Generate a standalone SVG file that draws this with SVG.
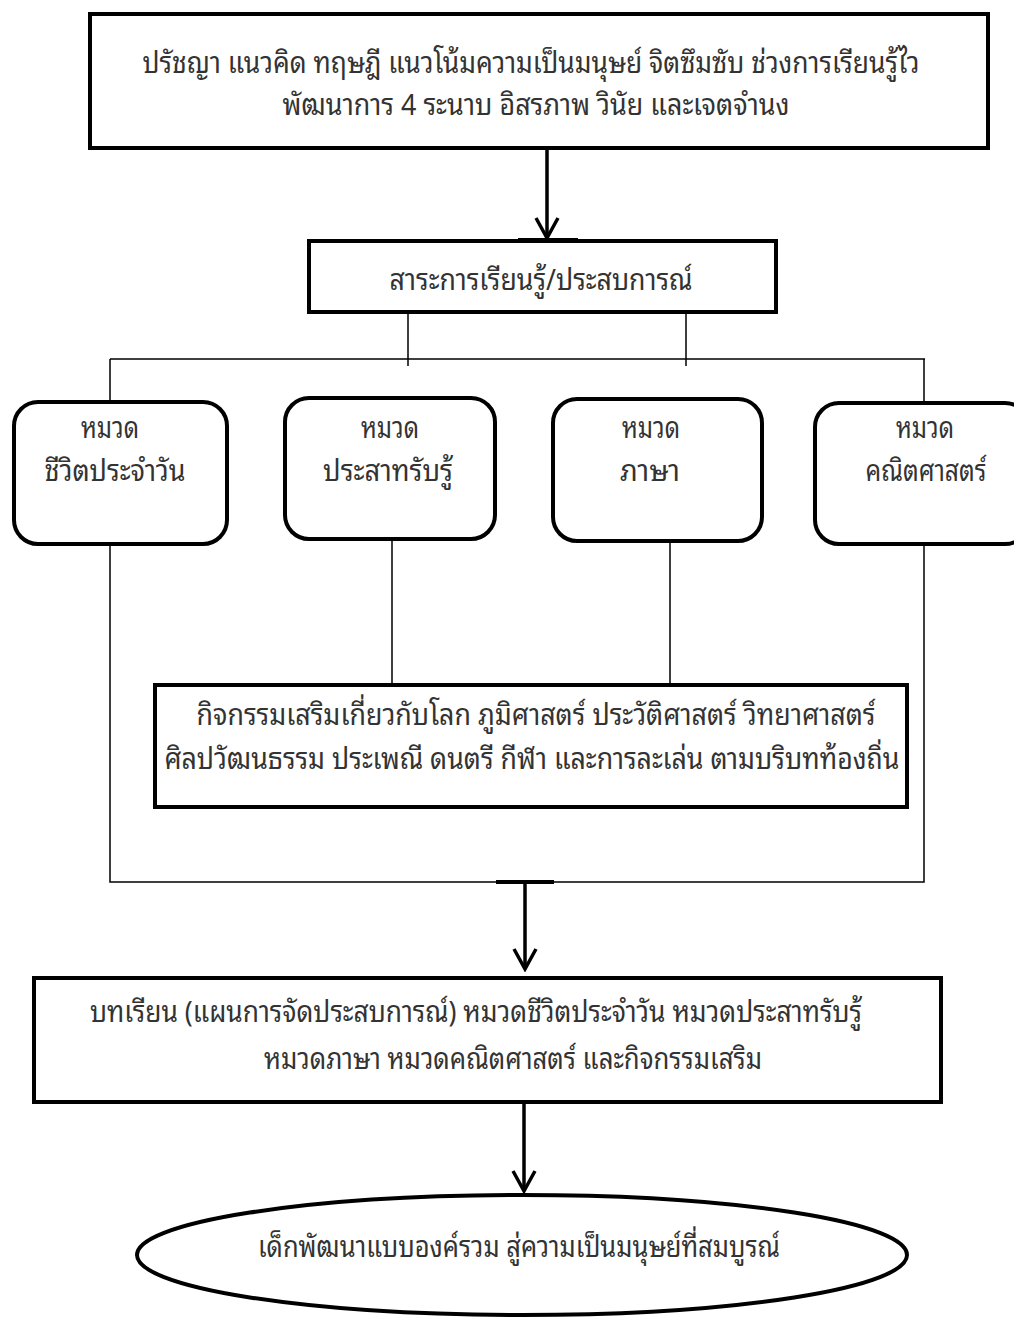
<svg xmlns="http://www.w3.org/2000/svg" width="1014" height="1318" viewBox="0 0 1014 1318">
<style>
text{font-family:"Noto Sans Thai Looped","Loma","Garuda","Waree","Norasi","Noto Serif Thai","Noto Sans Thai","Noto Sans","DejaVu Sans",sans-serif;font-size:29px;fill:#333;text-anchor:middle}
.box{fill:#fff;stroke:#000;stroke-width:4}
.thin{fill:none;stroke:#000;stroke-width:1.5}
.arr{fill:none;stroke:#000;stroke-width:3.5}
</style>
<defs>
<marker id="ah" viewBox="0 0 26 26" refX="23" refY="13" markerWidth="26" markerHeight="26" orient="auto" markerUnits="userSpaceOnUse">
<path d="M3,2 L23,13 L3,24" fill="none" stroke="#000" stroke-width="3.5"/>
</marker>
</defs>
<rect width="1014" height="1318" fill="#fff"/>
<g id="connectors">
<line class="arr" x1="547" y1="150" x2="547" y2="238" marker-end="url(#ah)"/>
<path class="thin" d="M408,313 V366 M686,313 V366 M110,359 H925 M110,359 V402 M924,359 V404"/>
<path class="thin" d="M110,545 V882 H924 V545 M392,540 V684 M670,541 V684"/>
<rect x="496" y="880" width="58" height="4" fill="#000"/>
<line class="arr" x1="525" y1="882" x2="525" y2="969" marker-end="url(#ah)"/>
<line class="arr" x1="524" y1="1104" x2="524" y2="1191" marker-end="url(#ah)"/>
</g>
<g id="n1">
<rect class="box" x="90" y="14" width="898" height="134"/>
<text x="531" y="73" textLength="777" lengthAdjust="spacingAndGlyphs">ปรัชญา แนวคิด ทฤษฎี แนวโน้มความเป็นมนุษย์ จิตซึมซับ ช่วงการเรียนรู้ไว</text>
<text x="536" y="115" textLength="507" lengthAdjust="spacingAndGlyphs">พัฒนาการ 4 ระนาบ อิสรภาพ วินัย และเจตจำนง</text>
</g>
<g id="n2">
<rect class="box" x="309" y="241" width="467" height="71"/>
<rect x="518" y="238" width="60" height="5" fill="#000"/>
<text x="541" y="290" textLength="303" lengthAdjust="spacingAndGlyphs">สาระการเรียนรู้/ประสบการณ์</text>
</g>
<g id="n3">
<rect class="box" x="14" y="402" width="213" height="142" rx="24"/>
<text x="110" y="438" textLength="58" lengthAdjust="spacingAndGlyphs">หมวด</text>
<text x="115" y="481" textLength="141" lengthAdjust="spacingAndGlyphs">ชีวิตประจำวัน</text>
</g>
<g id="n4">
<rect class="box" x="285" y="398" width="210" height="141" rx="24"/>
<text x="390" y="438" textLength="58" lengthAdjust="spacingAndGlyphs">หมวด</text>
<text x="388" y="481" textLength="130" lengthAdjust="spacingAndGlyphs">ประสาทรับรู้</text>
</g>
<g id="n5">
<rect class="box" x="553" y="399" width="209" height="142" rx="24"/>
<text x="651" y="438" textLength="58" lengthAdjust="spacingAndGlyphs">หมวด</text>
<text x="650" y="481" textLength="60" lengthAdjust="spacingAndGlyphs">ภาษา</text>
</g>
<g id="n6">
<rect class="box" x="815" y="403" width="214" height="141" rx="24"/>
<text x="925" y="438" textLength="58" lengthAdjust="spacingAndGlyphs">หมวด</text>
<text x="926" y="481" textLength="121" lengthAdjust="spacingAndGlyphs">คณิตศาสตร์</text>
</g>
<g id="n7">
<rect class="box" x="155" y="685" width="752" height="122" stroke-width="5"/>
<text x="536" y="725" textLength="679" lengthAdjust="spacingAndGlyphs">กิจกรรมเสริมเกี่ยวกับโลก ภูมิศาสตร์ ประวัติศาสตร์ วิทยาศาสตร์</text>
<text x="532" y="769" textLength="735" lengthAdjust="spacingAndGlyphs">ศิลปวัฒนธรรม ประเพณี ดนตรี กีฬา และการละเล่น ตามบริบทท้องถิ่น</text>
</g>
<g id="n8">
<rect class="box" x="34" y="978" width="907" height="124"/>
<text x="476" y="1022" textLength="772" lengthAdjust="spacingAndGlyphs">บทเรียน (แผนการจัดประสบการณ์) หมวดชีวิตประจำวัน หมวดประสาทรับรู้</text>
<text x="513" y="1069" textLength="498" lengthAdjust="spacingAndGlyphs">หมวดภาษา หมวดคณิตศาสตร์ และกิจกรรมเสริม</text>
</g>
<g id="n9">
<ellipse class="box" cx="522" cy="1255" rx="385" ry="60"/>
<text x="519" y="1257" textLength="522" lengthAdjust="spacingAndGlyphs">เด็กพัฒนาแบบองค์รวม สู่ความเป็นมนุษย์ที่สมบูรณ์</text>
</g>
</svg>
